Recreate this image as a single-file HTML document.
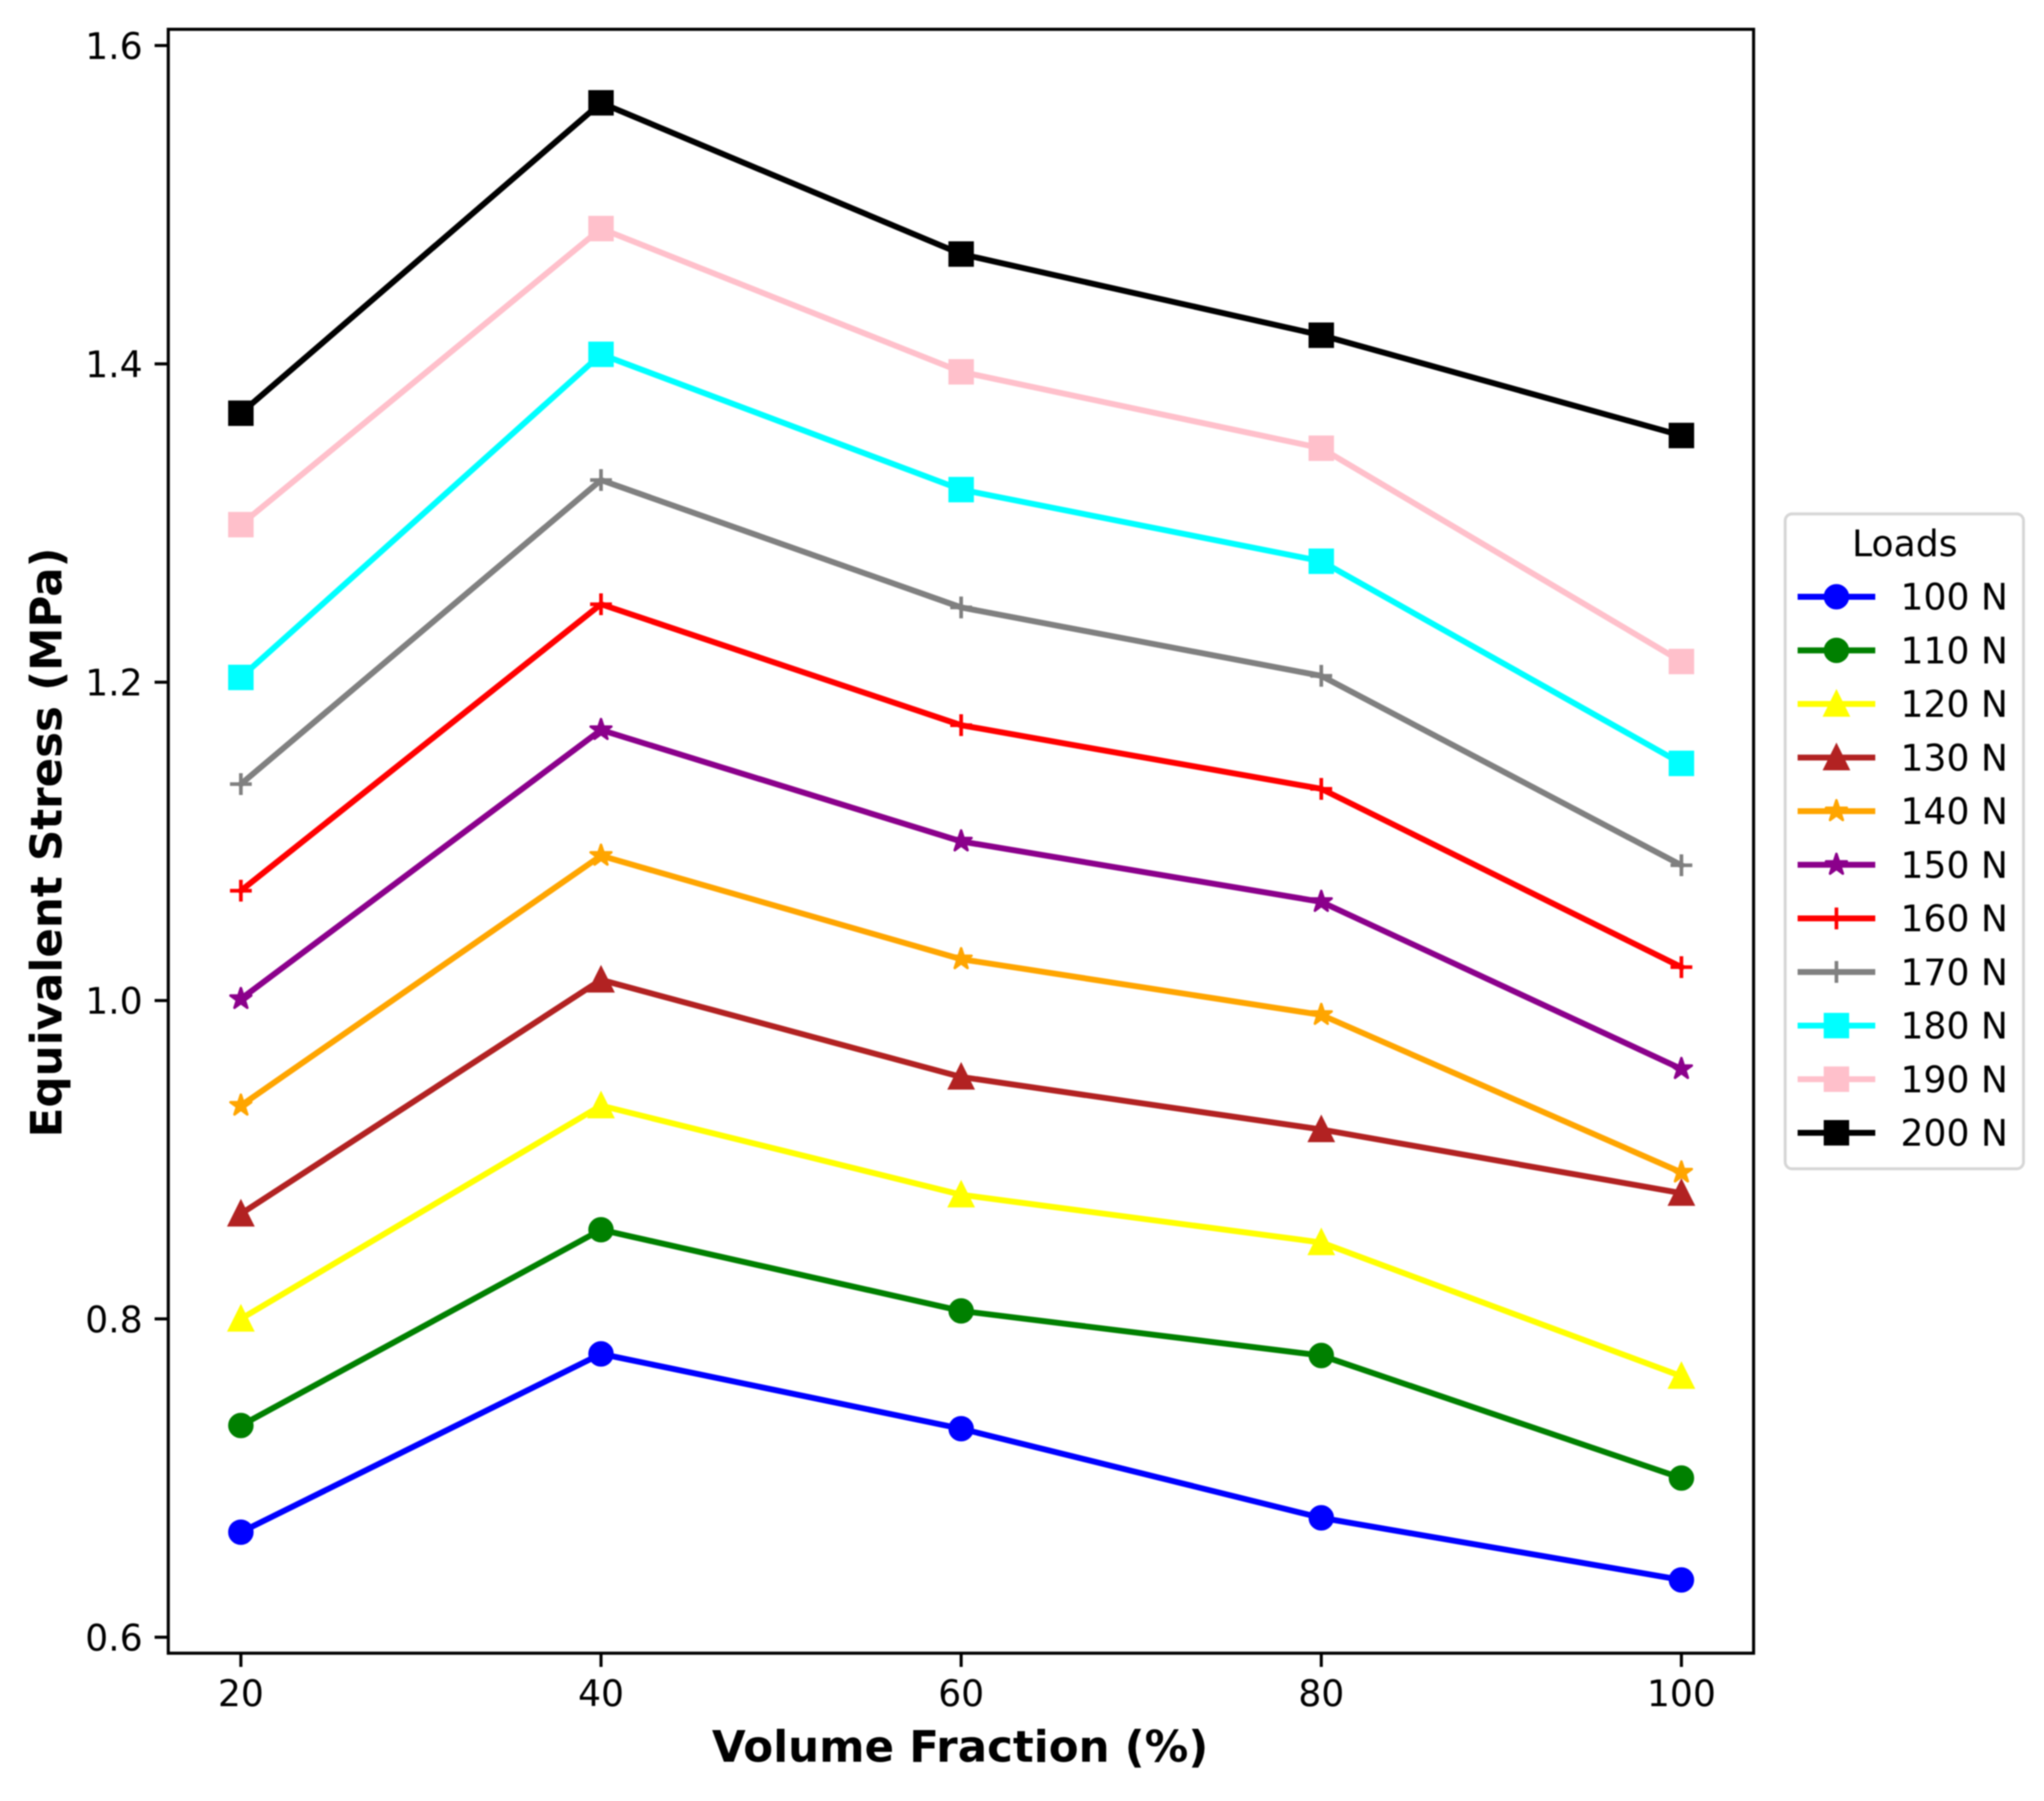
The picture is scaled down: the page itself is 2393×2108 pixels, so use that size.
<!DOCTYPE html>
<html lang="en">
<head>
<meta charset="utf-8">
<title>Equivalent Stress vs Volume Fraction</title>
<style>
  html, body { margin: 0; padding: 0; background: #fff; }
  body { width: 2393px; height: 2108px; overflow: hidden; }
  #chart { display: block; filter: blur(0.9px); }
  text { font-family: "DejaVu Sans", "Liberation Sans", sans-serif; fill: #000; }
  .tick { font-size: 42.3px; }
  .axis-title { font-size: 51px; font-weight: bold; }
</style>
</head>
<body>
<svg id="chart" xmlns="http://www.w3.org/2000/svg" width="2393" height="2108" viewBox="0 0 2393 2108">
  <rect x="0" y="0" width="2393" height="2108" fill="#fff"></rect>
  <g id="series-layer"></g>
  <rect x="197" y="34.3" width="1856" height="1900.7" fill="none" stroke="#000" stroke-width="3.6"></rect>
  <g id="x-axis"></g>
  <g id="y-axis"></g>
  <text class="axis-title" x="1124" y="2062" text-anchor="middle">Volume Fraction (%)</text>
  <text class="axis-title" x="72" y="986" text-anchor="middle" transform="rotate(-90 72 986)">Equivalent Stress (MPa)</text>
  <g id="legend">
    <rect x="2090" y="601.5" width="279" height="766.5" rx="8" ry="8" fill="#fff" stroke="#d6d6d6" stroke-width="3.4"></rect>
    <text class="tick" x="2230" y="651" text-anchor="middle">Loads</text>
  </g>
</svg>
<script>
// Chart data
const categories = [20, 40, 60, 80, 100];
const xTickLabels = ['20', '40', '60', '80', '100'];
const yTickValues = [0.6, 0.8, 1.0, 1.2, 1.4, 1.6];
const yTickLabels = ['0.6', '0.8', '1.0', '1.2', '1.4', '1.6'];
const load100 = [0.666, 0.778, 0.731, 0.675, 0.636];
const load110 = [0.733, 0.856, 0.805, 0.777, 0.700];
const load120 = [0.800, 0.934, 0.878, 0.848, 0.764];
const load130 = [0.866, 1.013, 0.952, 0.919, 0.879];
const load140 = [0.934, 1.091, 1.026, 0.991, 0.892];
const load150 = [1.001, 1.170, 1.100, 1.062, 0.957];
const load160 = [1.069, 1.249, 1.173, 1.133, 1.021];
const load170 = [1.136, 1.327, 1.247, 1.204, 1.085];
const load180 = [1.203, 1.406, 1.321, 1.276, 1.149];
const load190 = [1.299, 1.485, 1.395, 1.347, 1.213];
const load200 = [1.369, 1.564, 1.469, 1.418, 1.355];
const seriesLabels = ['100 N', '110 N', '120 N', '130 N', '140 N', '150 N', '160 N', '170 N', '180 N', '190 N', '200 N'];
const seriesValues = [load100, load110, load120, load130, load140, load150, load160, load170, load180, load190, load200];

// Appearance (kept apart from the data)
const seriesColors = ['#0000ff', '#008000', '#ffff00', '#b22222', '#ffa500', '#8b008b', '#ff0000', '#808080', '#00ffff', '#ffc0cb', '#000000'];
const seriesMarkers = ['circle', 'circle', 'triangle', 'triangle', 'star', 'star', 'plus', 'plus', 'square', 'square', 'square'];

const SVG_NS = 'http://www.w3.org/2000/svg';
const LINE_WIDTH = 6.9;
const MARKER_SIZE = 25.5;
const EDGE_WIDTH = 4.3;

function xScale(v) {
  return 282 + (v - 20) * (1968.5 - 282) / 80;
}
function yScale(v) {
  return 1916.3 - (v - 0.6) * (1916.3 - 53.3) / 1.0;
}
function make(tag, attrs, parent) {
  const el = document.createElementNS(SVG_NS, tag);
  for (const key in attrs) el.setAttribute(key, attrs[key]);
  parent.appendChild(el);
  return el;
}
function starPoints(cx, cy, r) {
  const pts = [];
  for (let i = 0; i < 10; i++) {
    const rad = i % 2 === 0 ? r : r * 0.381966;
    const a = -Math.PI / 2 + i * Math.PI / 5;
    pts.push((cx + rad * Math.cos(a)).toFixed(2) + ',' + (cy + rad * Math.sin(a)).toFixed(2));
  }
  return pts.join(' ');
}
function drawMarker(kind, cx, cy, color, parent) {
  const h = MARKER_SIZE / 2;
  let el;
  if (kind === 'circle') {
    el = make('circle', { cx: cx, cy: cy, r: h, fill: color, stroke: color, 'stroke-width': EDGE_WIDTH }, parent);
  } else if (kind === 'square') {
    el = make('rect', { x: cx - h, y: cy - h, width: MARKER_SIZE, height: MARKER_SIZE, fill: color, stroke: color, 'stroke-width': EDGE_WIDTH, 'stroke-linejoin': 'miter' }, parent);
  } else if (kind === 'triangle') {
    const pts = cx + ',' + (cy - h) + ' ' + (cx - h) + ',' + (cy + h) + ' ' + (cx + h) + ',' + (cy + h);
    el = make('polygon', { points: pts, fill: color, stroke: color, 'stroke-width': EDGE_WIDTH, 'stroke-linejoin': 'miter', 'stroke-miterlimit': 10 }, parent);
  } else if (kind === 'star') {
    el = make('polygon', { points: starPoints(cx, cy, h), fill: color, stroke: color, 'stroke-width': 3, 'stroke-linejoin': 'round' }, parent);
  } else {
    const d = 'M' + (cx - h) + ' ' + cy + 'H' + (cx + h) + 'M' + cx + ' ' + (cy - h) + 'V' + (cy + h);
    el = make('path', { d: d, fill: 'none', stroke: color, 'stroke-width': EDGE_WIDTH }, parent);
  }
  return el;
}

// X axis
const xAxis = document.getElementById('x-axis');
categories.forEach(function (value, i) {
  const tx = xScale(value);
  const tick = make('line', { x1: tx, x2: tx, y1: 1935, y2: 1951, stroke: '#000', 'stroke-width': 3.6 }, xAxis);
  
  
  const label = make('text', { x: tx, y: 1997, 'text-anchor': 'middle', class: 'tick' }, xAxis);
  label.textContent = xTickLabels[i];
  
  
});

// Y axis
const yAxis = document.getElementById('y-axis');
yTickValues.forEach(function (value, i) {
  const ty = yScale(value);
  const tick = make('line', { x1: 181, x2: 197, y1: ty, y2: ty, stroke: '#000', 'stroke-width': 3.6 }, yAxis);
  
  
  const label = make('text', { x: 167, y: ty + 15.6, 'text-anchor': 'end', class: 'tick' }, yAxis);
  label.textContent = yTickLabels[i];
  
  
});

// Series
const seriesLayer = document.getElementById('series-layer');
seriesValues.forEach(function (values, s) {
  const color = seriesColors[s];
  const slug = seriesLabels[s].replace(' ', '-').toLowerCase();
  const group = make('g', {}, seriesLayer);
  
  
  const pts = values.map(function (v, i) {
    return xScale(categories[i]).toFixed(2) + ',' + yScale(v).toFixed(2);
  }).join(' ');
  const line = make('polyline', { points: pts, fill: 'none', stroke: color, 'stroke-width': LINE_WIDTH, 'stroke-linejoin': 'round', 'stroke-linecap': 'square' }, group);
  
  
  values.forEach(function (v, i) {
    const mark = drawMarker(seriesMarkers[s], xScale(categories[i]), yScale(v), color, group);
    
    
  });
});

// Legend
const legend = document.getElementById('legend');
seriesLabels.forEach(function (name, s) {
  const rowY = 698.5 + s * 62.74;
  const color = seriesColors[s];
  const slug = name.replace(' ', '-').toLowerCase();
  const entry = make('g', {}, legend);
  
  
  make('line', { x1: 2108, x2: 2192, y1: rowY, y2: rowY, stroke: color, 'stroke-width': LINE_WIDTH, 'stroke-linecap': 'square' }, entry);
  drawMarker(seriesMarkers[s], 2150, rowY, color, entry);
  const label = make('text', { x: 2225, y: rowY + 15.2, class: 'tick' }, entry);
  label.textContent = name;
  
  
});
</script>
</body>
</html>
